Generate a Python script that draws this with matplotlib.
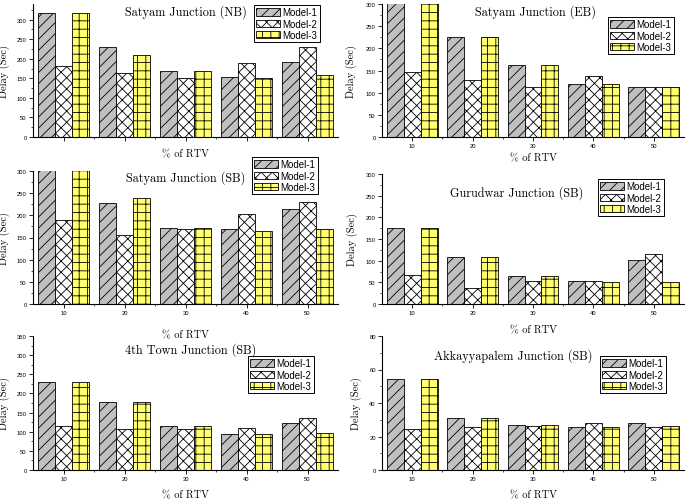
import matplotlib
matplotlib.use("Agg")
import matplotlib.pyplot as plt
import numpy as np

plt.rcParams['hatch.linewidth'] = 0.6
plt.rcParams['hatch.color'] = 'black'

rtv = [10, 20, 30, 40, 50]
models = ["Model-1", "Model-2", "Model-3"]

titles = ["Satyam Junction (NB)", "Satyam Junction (EB)", "Satyam Junction (SB)",
          "Gurudwar Junction (SB)", "4th Town Junction (SB)", "Akkayyapalem Junction (SB)"]

nb_m1 = [318, 231, 168, 153, 191]
nb_m2 = [181, 163, 152, 189, 229]
nb_m3 = [318, 210, 168, 151, 158]

eb_m1 = [330, 226, 162, 120, 113]
eb_m2 = [147, 129, 113, 138, 113]
eb_m3 = [330, 226, 162, 120, 112]

ssb_m1 = [330, 227, 172, 169, 215]
ssb_m2 = [190, 155, 169, 202, 229]
ssb_m3 = [330, 240, 172, 164, 170]

gur_m1 = [175, 109, 65, 54, 101]
gur_m2 = [66, 38, 52, 54, 116]
gur_m3 = [175, 109, 65, 51, 51]

town_m1 = [229, 177, 115, 95, 124]
town_m2 = [115, 107, 108, 111, 135]
town_m3 = [229, 177, 115, 95, 97]

akk_m1 = [54.2, 31.2, 27.0, 25.9, 28.3]
akk_m2 = [24.7, 25.7, 26.0, 28.3, 25.7]
akk_m3 = [54.2, 31.2, 27.0, 25.9, 26.3]

data = [(nb_m1, nb_m2, nb_m3), (eb_m1, eb_m2, eb_m3), (ssb_m1, ssb_m2, ssb_m3),
        (gur_m1, gur_m2, gur_m3), (town_m1, town_m2, town_m3), (akk_m1, akk_m2, akk_m3)]

W, H = 685, 502
fig = plt.figure(figsize=(W / 100, H / 100), dpi=100)

# (left, top, right, bottom) in pixels
boxes = [(33, 5, 338, 138), (382, 5, 684, 138), (33, 172, 338, 305),
         (382, 175, 684, 305), (33, 337, 338, 471), (382, 337, 684, 471)]
ylims = [340, 300, 300, 300, 350, 80]
ysteps = [50, 50, 50, 50, 50, 20]
title_pos = [(0.50, 0.947), (0.507, 0.947), (0.50, 0.955), (0.447, 0.862), (0.518, 0.903), (0.434, 0.858)]
legend_px = [(254, 6), (608, 18), (252, 158), (598, 180), (248, 357), (600, 357)]
xlabel_off = [12, 16, 26, 21, 20, 20]
ylabel_off = [23, 25, 23, 24, 23, 20]

styles = [dict(color='#c0c0c0', hatch='///'),
          dict(color='white', hatch='xxx'),
          dict(color='#ffff70', hatch='++')]

serif = ['cmr10', 'DejaVu Serif']
bw = 2.8
for i, (l, t, r, b) in enumerate(boxes):
    ax = fig.add_axes([l / W, 1 - b / H, (r - l) / W, (b - t) / H])
    ax.set_facecolor('none')
    x = np.array(rtv, dtype=float)
    for k, series in enumerate(data[i]):
        ax.bar(x + (k - 1) * bw, series, width=bw, color=styles[k]['color'],
               hatch=styles[k]['hatch'], edgecolor='black', linewidth=0.6,
               label=models[k])
    ax.set_xlim(5, 55)
    ax.set_ylim(0, ylims[i])
    ax.set_yticks(np.arange(0, ylims[i] + 0.1, ysteps[i]))
    ax.set_yticks(np.arange(ysteps[i] / 2, ylims[i], ysteps[i]), minor=True)
    ax.set_xticks(rtv)
    ax.set_xticks([15, 25, 35, 45], minor=True)
    for s in ['top', 'right']:
        ax.spines[s].set_visible(False)
    for s in ['left', 'bottom']:
        ax.spines[s].set_linewidth(0.8)
    ax.tick_params(which='major', direction='out', length=3, width=0.6, labelsize=4.2, pad=1.5)
    ax.tick_params(which='minor', direction='out', length=1.5, width=0.5)
    for lab in ax.get_xticklabels() + ax.get_yticklabels():
        lab.set_fontfamily(['Liberation Sans', 'DejaVu Sans'])
    if i == 0:
        ax.tick_params(axis='x', labelbottom=False)
    ax.set_xlabel("% of RTV", fontsize=7.5, family=serif)
    ax.xaxis.set_label_coords(0.5, -xlabel_off[i] / (b - t))
    ax.set_ylabel("Delay (Sec)", fontsize=7.5, family=serif)
    ax.yaxis.set_label_coords(-ylabel_off[i] / (r - l), 0.5)
    tx, ty = title_pos[i]
    ax.text(tx, ty, titles[i], transform=ax.transAxes, ha='center', va='center',
            fontsize=8.8, family=serif)
    lx, ly = legend_px[i]
    ax.legend(loc='upper left', bbox_to_anchor=(lx / W, 1 - ly / H),
              bbox_transform=fig.transFigure, frameon=True, fancybox=False,
              edgecolor='black', framealpha=1, prop={'family': 'Liberation Sans', 'size': 7},
              handlelength=2.4, handleheight=0.75, labelspacing=0.12, borderpad=0.25,
              handletextpad=0.3, borderaxespad=0)
    ax.get_legend().get_frame().set_linewidth(0.7)

fig.savefig("out.png", dpi=100)
